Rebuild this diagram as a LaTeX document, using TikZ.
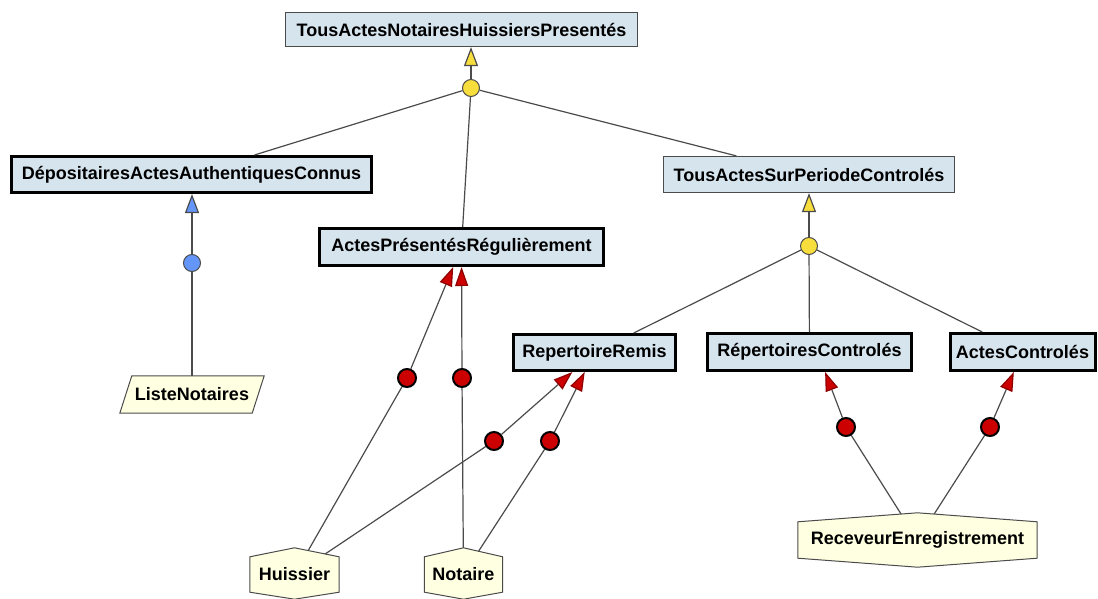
\documentclass[tikz,border=0pt]{standalone}
\usepackage{fontspec}
\setmainfont{Liberation Sans}
\usetikzlibrary{arrows.meta,backgrounds,calc}

\definecolor{clsfill}{RGB}{214,228,238}
\definecolor{actfill}{RGB}{255,255,226}
\definecolor{yel}{RGB}{248,222,60}
\definecolor{redd}{RGB}{204,0,0}
\definecolor{blu}{RGB}{100,150,250}
\definecolor{edge}{RGB}{75,75,75}

\tikzset{
  every node/.style={font=\fontsize{18}{21}\selectfont\bfseries, inner sep=0pt},
  cls/.style={rectangle, fill=clsfill, draw=edge, line width=1.2pt},
  clsbold/.style={cls, draw=black, line width=3pt},
  actor/.style={rectangle},
  actshape/.style={fill=actfill, draw=edge, line width=1pt},
  dotyel/.style={circle, minimum size=17pt, fill=yel, draw=edge, line width=1pt},
  dotblu/.style={circle, minimum size=17pt, fill=blu, draw=edge, line width=1pt},
  dotred/.style={circle, minimum size=18pt, fill=redd, draw=black, line width=2pt},
  link/.style={draw=edge, line width=1.2pt},
  isayel/.style={link, -{Triangle[length=19pt,width=14pt,color=edge,fill=yel]}},
  isablu/.style={link, -{Triangle[length=19pt,width=14pt,color=edge,fill=blu]}},
  assoc/.style={link, -{Triangle[length=19pt,width=13pt,color=redd!70!black,fill=redd]}},
}

\begin{document}
\begin{tikzpicture}[x=1pt,y=1pt]
\useasboundingbox (0,0) rectangle (1098,-599);

% class boxes
\node[cls, minimum width=352pt, minimum height=34pt] (top) at (461.5,-29.5) {TousActesNotairesHuissiersPresentés};
\node[clsbold, minimum width=360pt, minimum height=36pt] (dep) at (191.5,-174.5) {DépositairesActesAuthentiquesConnus};
\node[cls, minimum width=291pt, minimum height=36pt] (tsp) at (809,-174.5) {TousActesSurPeriodeControlés};
\node[clsbold, minimum width=284pt, minimum height=37pt] (apr) at (461.5,-247) {ActesPrésentésRégulièrement};
\node[clsbold, minimum width=162pt, minimum height=36pt] (rr) at (594.5,-352.5) {RepertoireRemis};
\node[clsbold, minimum width=204pt, minimum height=37pt] (rc) at (809.5,-352) {RépertoiresControlés};
\node[clsbold, minimum width=145pt, minimum height=37pt] (ac) at (1022.5,-352) {ActesControlés};

% actors and list
\node[actor, minimum width=132pt, minimum height=37pt] (ln) at (192,-394.5) {ListeNotaires};
\node[actor, minimum width=89pt, minimum height=35pt] (hu) at (294.5,-574.5) {Huissier};
\node[actor, minimum width=78pt, minimum height=35pt] (no) at (463.5,-574.5) {Notaire};
\node[actor, minimum width=239pt, minimum height=36pt] (rec) at (917.5,-540) {ReceveurEnregistrement};

% junction dots
\node[dotyel] (y1) at (471,-88) {};
\node[dotyel] (y2) at (809,-246) {};
\node[dotblu] (bc) at (192,-263) {};
\node[dotred] (r1) at (407,-378) {};
\node[dotred] (r2) at (462,-378) {};
\node[dotred] (r3) at (494,-441) {};
\node[dotred] (r4) at (550,-441) {};
\node[dotred] (r5) at (846,-427) {};
\node[dotred] (r6) at (990,-427) {};

% generalisations
\draw[isayel] (y1) -- (y1 |- top.south);
\draw[link] (y1) -- (dep);
\draw[link] (y1) -- (apr);
\draw[link] (y1) -- (tsp);
\draw[isayel] (y2) -- (y2 |- tsp.south);
\draw[link] (y2) -- (rr);
\draw[link] (y2) -- (rc);
\draw[link] (y2) -- (ac);
\draw[isablu] (bc) -- (bc |- dep.south);
\draw[link] (bc) -- (ln);

% associations
\draw[assoc] (r1) -- (apr);
\draw[assoc] (r2) -- (apr);
\draw[assoc] (r3) -- (rr);
\draw[assoc] (r4) -- (rr);
\draw[assoc] (r5) -- (rc.-52);
\draw[assoc] (r6) -- (ac);

\begin{scope}[on background layer]
  % actor ends of the associations, hidden under the actor shapes
  \draw[link] (hu.center) -- (r1.center);
  \draw[link] (hu.center) -- (r3.center);
  \draw[link] (no.center) -- (r2.center);
  \draw[link] (no.center) -- (r4.center);
  \draw[link] (rec.center) -- (r5.center);
  \draw[link] (rec.center) -- (r6.center);
  % actor outlines
  \filldraw[actshape] (hu.north west) -- ($(hu.north)+(0,9)$) -- (hu.north east) -- (hu.south east) -- ($(hu.south)+(0,-7)$) -- (hu.south west) -- cycle;
  \filldraw[actshape] (no.north west) -- ($(no.north)+(0,9)$) -- (no.north east) -- (no.south east) -- ($(no.south)+(0,-7)$) -- (no.south west) -- cycle;
  \filldraw[actshape] (rec.north west) -- ($(rec.north)+(0,9)$) -- (rec.north east) -- (rec.south east) -- ($(rec.south)+(0,-9)$) -- (rec.south west) -- cycle;
  % list parallelogram
  \filldraw[actshape] ($(ln.north west)+(6,0)$) -- ($(ln.north east)+(6,0)$) -- ($(ln.south east)+(-6,0)$) -- ($(ln.south west)+(-6,0)$) -- cycle;
\end{scope}
\end{tikzpicture}
\end{document}
